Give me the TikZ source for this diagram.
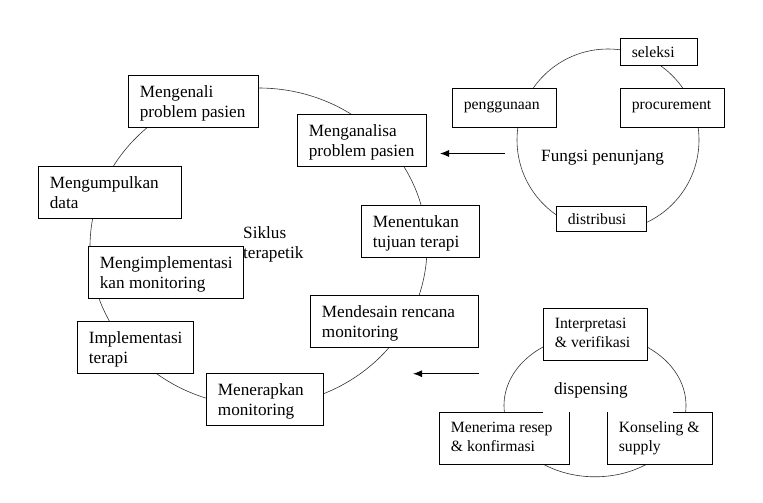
\documentclass[tikz,border=0pt]{standalone}
\usepackage{fontspec}
\setmainfont{Liberation Serif}
\usetikzlibrary{arrows.meta}
\newcommand\bigf{\fontsize{17.2pt}{20pt}\selectfont}
\newcommand\smallf{\fontsize{15.7pt}{18.3pt}\selectfont}
% two-line content: #1 width, #2 top strut, #3 bottom depth, #4 line 1, #5 line 2
\newcommand\twol[5]{\rule{0pt}{#2}\makebox[#1][l]{#4}\\\makebox[#1][l]{#5}\rule[-#3]{0pt}{#3}}
% one-line content
\newcommand\onel[4]{\rule{0pt}{#2}\makebox[#1][l]{#4}\rule[-#3]{0pt}{#3}}
\tikzset{
  cyc/.style={draw=black!80, line width=0.6pt},
  bx/.style={draw, fill=white, line width=0.75pt, inner xsep=11.5pt, inner ysep=0pt,
             anchor=north west, align=left},
  bigbx/.style={bx, font=\bigf, minimum height=52pt},
  smbx/.style={bx, font=\smallf},
  openbx/.style={smbx, draw=none, minimum height=52pt},
  border/.style={line width=0.75pt},
  arr/.style={line width=1pt, -{Latex[length=9pt,width=7pt]}},
  lbl/.style={inner sep=0pt, align=left}
}
\begin{document}
\begin{tikzpicture}[x=1pt, y=-1pt]
\useasboundingbox (0,0) rectangle (763,503);

% cycles
\draw[cyc] (258.5,247) ellipse [x radius=168.5, y radius=159];
\draw[cyc] (608,140) ellipse [x radius=91, y radius=91];
\draw[cyc] (595,405.5) ellipse [x radius=91, y radius=71.3];

% centre labels
\node[lbl, anchor=north west, font=\bigf] (siklus) at (243,223) {\rule{0pt}{15pt}Siklus\\terapetik};
\node[lbl, anchor=base west, font=\bigf] (fungsi) at (541,161.7) {Fungsi penunjang};
\node[lbl, anchor=base west, font=\bigf] (disp) at (554,394.3) {dispensing};

% therapeutic cycle
\node[bigbx, minimum width=130pt] (mengenali) at (128,75)
  {\twol{107pt}{22.5pt}{9.5pt}{Mengenali}{problem pasien}};
\node[bigbx, minimum width=129pt] (menganalisa) at (297,114)
  {\twol{106pt}{22.5pt}{9.5pt}{Menganalisa}{problem pasien}};
\node[bigbx, minimum width=118pt] (menentukan) at (361,205)
  {\twol{95pt}{22.5pt}{9.5pt}{Menentukan}{tujuan terapi}};
\node[bigbx, minimum width=168pt] (mendesain) at (310,295)
  {\twol{145pt}{22.5pt}{9.5pt}{Mendesain rencana}{monitoring}};
\node[bigbx, minimum width=117pt] (menerapkan) at (206,373)
  {\twol{94pt}{22.5pt}{9.5pt}{Menerapkan}{monitoring}};
\node[bigbx, minimum width=116pt] (implementasi) at (77,321)
  {\twol{93pt}{22.5pt}{9.5pt}{Implementasi}{terapi}};
\node[bigbx, minimum width=155pt] (mengimpl) at (88,246)
  {\twol{132pt}{22.5pt}{9.5pt}{Mengimplementasi}{kan monitoring}};
\node[bigbx, minimum width=143pt] (mengumpulkan) at (38,166)
  {\twol{120pt}{22.5pt}{9.5pt}{Mengumpulkan}{data}};

% supporting functions
\node[smbx, minimum width=77pt, minimum height=27pt] (seleksi) at (620,38)
  {\onel{54pt}{19.3pt}{7.7pt}{seleksi}};
\node[smbx, minimum width=104pt, minimum height=39pt] (penggunaan) at (452,88)
  {\onel{81pt}{21pt}{18pt}{penggunaan}};
\node[smbx, minimum width=104pt, minimum height=39pt] (procurement) at (620,88)
  {\onel{81pt}{21pt}{18pt}{procurement}};
\node[smbx, minimum width=90pt, minimum height=25pt] (distribusi) at (556,206)
  {\onel{67pt}{18pt}{7pt}{distribusi}};

% dispensing
\node[smbx, minimum width=104pt, minimum height=52pt] (interpretasi) at (543,308)
  {\twol{81pt}{20.5pt}{13.2pt}{Interpretasi}{\& verifikasi}};
\node[openbx, minimum width=130pt] (menerima) at (439,412)
  {\twol{107pt}{20.5pt}{13.2pt}{Menerima resep}{\& konfirmasi}};
\node[openbx, minimum width=105pt] (konseling) at (607,412)
  {\twol{82pt}{20.5pt}{13.2pt}{Konseling \&}{supply}};
\draw[border] ([xshift=104pt]menerima.north west) -- (menerima.north west)
  -- (menerima.south west) -- (menerima.south east) -- (menerima.north east);
\draw[border] ([xshift=66pt]konseling.north west) -- (konseling.north east)
  -- (konseling.south east) -- (konseling.south west) -- (konseling.north west);

% arrows
\coordinate (a1s) at (505,153.5);
\coordinate (a1e) at (440,153.5);
\coordinate (a2s) at (479,373.7);
\coordinate (a2e) at (413,373.7);
\draw[arr] (a1s) -- (a1e);
\draw[arr] (a2s) -- (a2e);
\end{tikzpicture}
\end{document}
